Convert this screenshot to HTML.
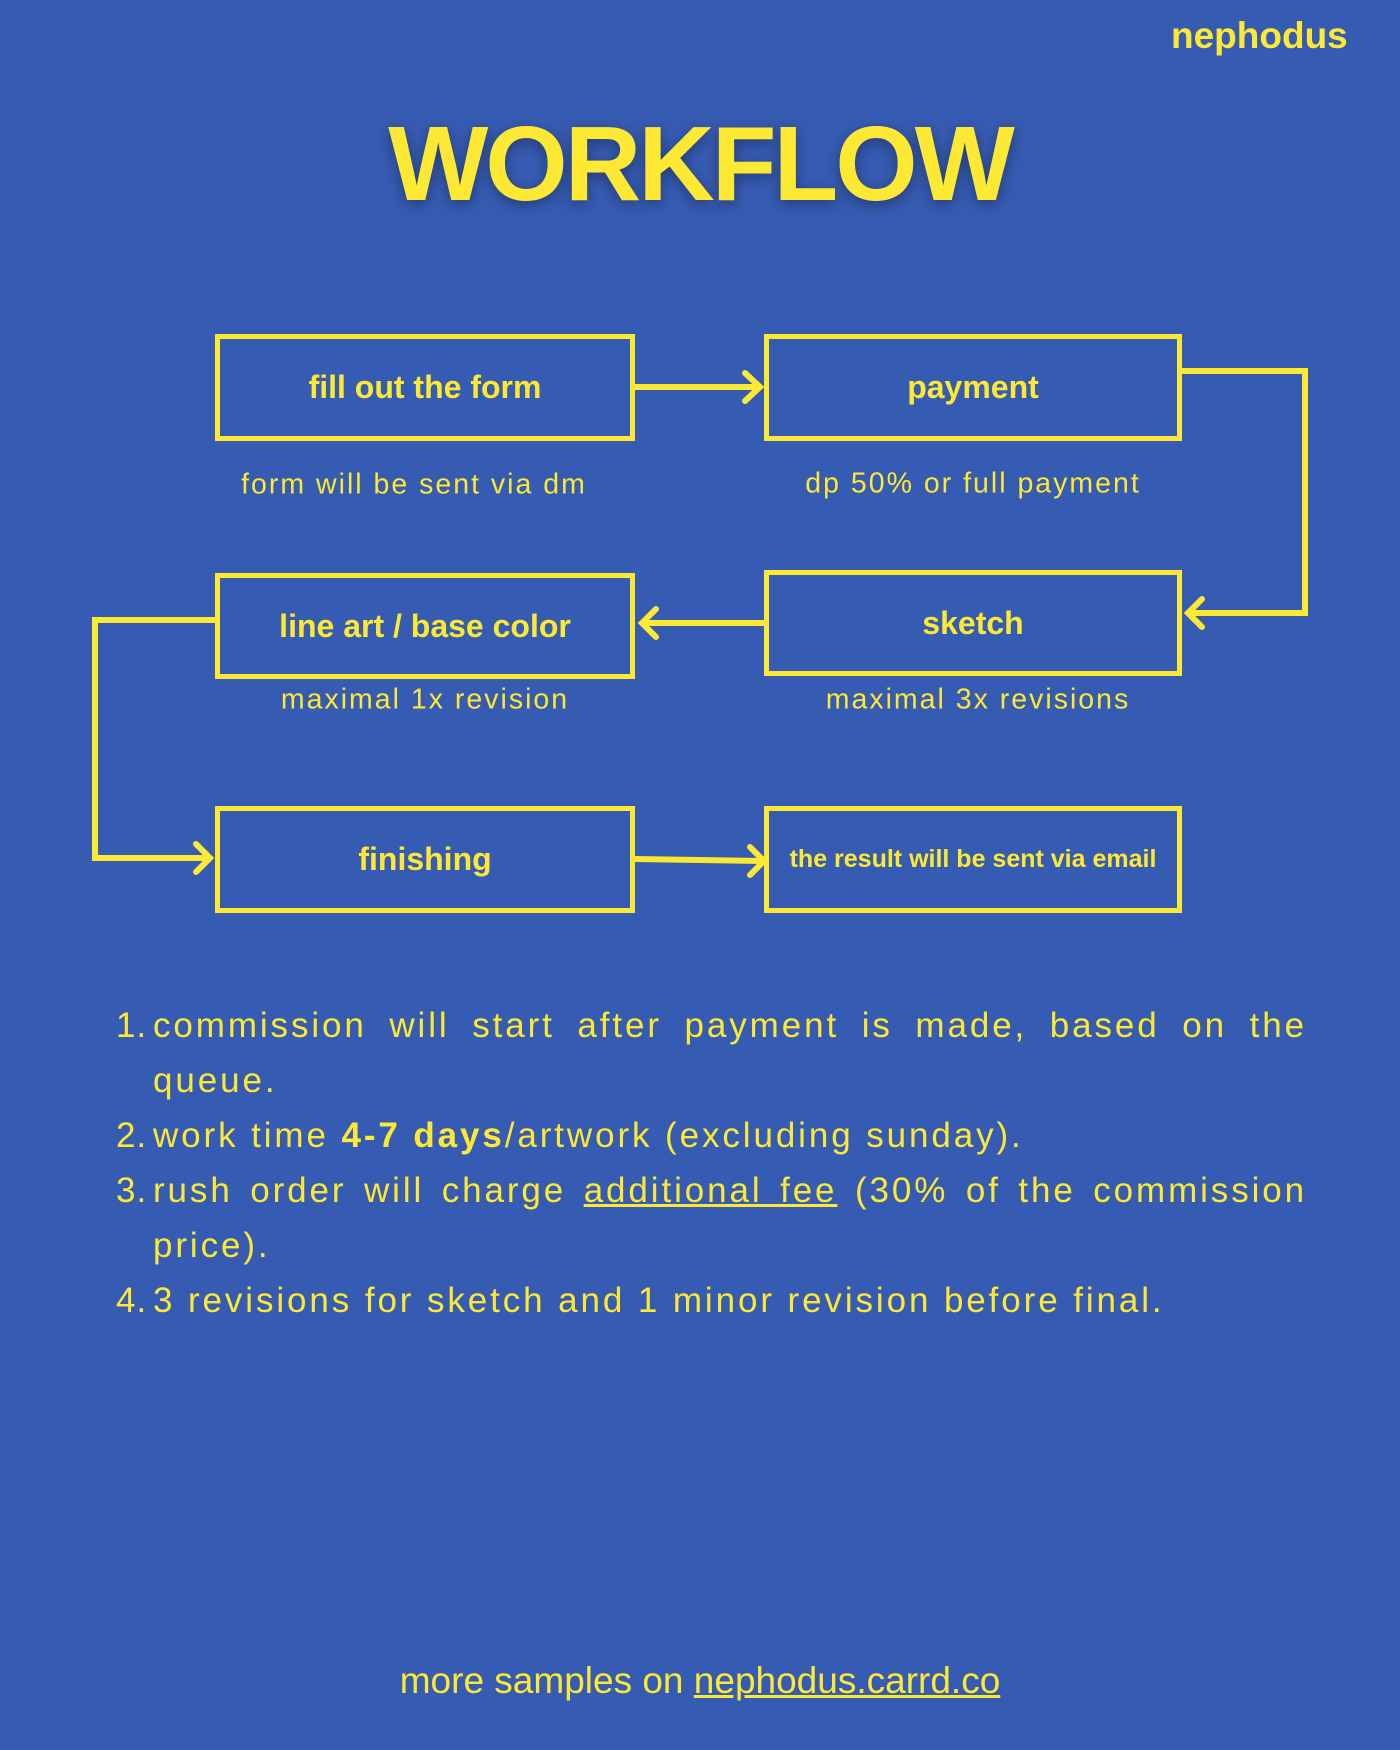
<!DOCTYPE html>
<html><head><meta charset="utf-8"><style>
html,body{margin:0;padding:0}
body{width:1400px;height:1750px;background:#365bb2;position:relative;overflow:hidden;font-family:"Liberation Sans",sans-serif;color:#fde934}
.a{position:absolute;white-space:nowrap}
.box{position:absolute;border:5.5px solid #fde934;box-sizing:border-box;display:flex;align-items:center;justify-content:center;font-weight:bold;font-size:32px}
.sub{position:absolute;font-size:28.5px;letter-spacing:2px;transform:translate(-50%,-50%);white-space:nowrap}
.list{position:absolute;left:116px;width:1191px;top:998px;font-size:35px;letter-spacing:2.9px;line-height:55px}
.li{display:flex}
.n{width:37px;flex:none;letter-spacing:1px}
.t{flex:1;text-align:justify}
</style></head><body>
<div class="a" style="left:1171px;top:15px;font-size:37px;font-weight:bold">nephodus</div>
<div class="a" style="left:0;width:1400px;text-align:center;top:104px;font-size:106px;font-weight:bold;letter-spacing:-3px;text-shadow:0 4px 14px rgba(0,0,0,0.35)">WORKFLOW</div>

<div class="box" style="left:215px;top:334px;width:420px;height:107px">fill out the form</div>
<div class="box" style="left:764px;top:334px;width:418px;height:107px">payment</div>
<div class="box" style="left:215px;top:573px;width:420px;height:106px">line art / base color</div>
<div class="box" style="left:764px;top:570px;width:418px;height:106px">sketch</div>
<div class="box" style="left:215px;top:806px;width:420px;height:107px">finishing</div>
<div class="box" style="left:764px;top:806px;width:418px;height:107px;font-size:25px">the result will be sent via email</div>

<div class="sub" style="left:414px;top:485px">form will be sent via dm</div>
<div class="sub" style="left:973px;top:484px">dp 50% or full payment</div>
<div class="sub" style="left:425px;top:700px">maximal 1x revision</div>
<div class="sub" style="left:978px;top:700px">maximal 3x revisions</div>

<svg class="a" style="left:0;top:0" width="1400" height="1750" fill="none" stroke="#fde934" stroke-width="6">
<path d="M635 387 H760"/><path d="M745 373 L760 387 L745 401" stroke-linecap="round"/>
<path d="M1182 371 H1305 V613 H1188"/><path d="M1202 599 L1188 613 L1202 627" stroke-linecap="round"/>
<path d="M764 623 H642"/><path d="M656 609 L642 623 L656 637" stroke-linecap="round"/>
<path d="M215 620 H95 V858 H210"/><path d="M196 844 L210 858 L196 872" stroke-linecap="round"/>
<path d="M635 859 L764 861"/><path d="M750 847 L764 861 L750 875" stroke-linecap="round"/>
</svg>

<div class="list">
<div class="li"><span class="n">1.</span><span class="t">commission will start after payment is made, based on the queue.</span></div>
<div class="li"><span class="n">2.</span><span class="t" style="text-align:left">work time <b>4-7 days</b>/artwork (excluding sunday).</span></div>
<div class="li"><span class="n">3.</span><span class="t">rush order will charge <u>additional fee</u> (30% of the commission price).</span></div>
<div class="li"><span class="n">4.</span><span class="t" style="text-align:left">3 revisions for sketch and 1 minor revision before final.</span></div>
</div>

<div class="a" style="left:0;width:1400px;text-align:center;top:1660px;font-size:37px">more samples on <u>nephodus.carrd.co</u></div>
</body></html>
